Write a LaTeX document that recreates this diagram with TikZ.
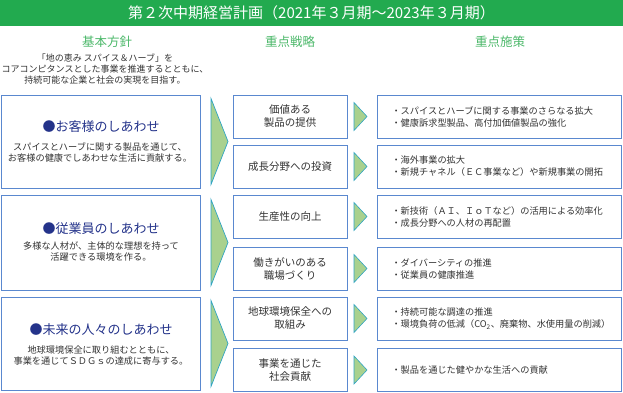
\documentclass[tikz,border=0pt]{standalone}
\usepackage{fontspec}
\setmainfont{Noto Sans CJK JP}
\definecolor{barGreen}{HTML}{22AA4F}
\definecolor{headGreen}{HTML}{4CB86A}
\definecolor{boxBlue}{HTML}{5A88CF}
\definecolor{navyT}{HTML}{24338A}
\definecolor{greyT}{HTML}{333333}
\definecolor{arrFill}{HTML}{A9D18E}
\definecolor{arrLine}{HTML}{2FA4C4}
\begin{document}
\begin{tikzpicture}[x=1pt,y=-1pt,
  every node/.style={inner sep=0pt, outer sep=0pt},
  headtext/.style={text=headGreen, font=\fontsize{12.5}{14}\selectfont},
  leftbox/.style={draw=boxBlue, line width=0.9pt, minimum width=199pt},
  midbox/.style={draw=boxBlue, line width=0.9pt, minimum width=114pt, minimum height=43pt,
     align=center, text=greyT, font=\fontsize{10.5}{13}\selectfont},
  rightbox/.style={draw=boxBlue, line width=0.9pt, minimum width=244pt, minimum height=43pt},
  lefttitle/.style={text=navyT, font=\fontsize{13}{15}\selectfont},
  leftsub/.style={text=greyT, align=center, font=\fontsize{9.2}{11}\selectfont},
  righttext/.style={anchor=west, text=greyT, align=left, font=\fontsize{9.2}{12}\selectfont},
  bigarrow/.style={fill=arrFill, draw=arrLine, line width=0.7pt},
  smallarrow/.style={fill=arrFill, draw=arrLine, line width=0.6pt}
]
\useasboundingbox (0,0) rectangle (623,393);
% title bar
\node[fill=barGreen, minimum width=623pt, minimum height=26pt, text=white,
      font=\fontsize{15}{17}\selectfont] (title) at (311.5,13)
      {第２次中期経営計画（2021年３月期～2023年３月期）};
% headers
\node[headtext] (h1) at (107,42) {基本方針};
\node[headtext] (h2) at (290,42) {重点戦略};
\node[headtext] (h3) at (500,42) {重点施策};
% intro
\node[leftsub, font=\fontsize{9}{11}\selectfont] (intro) at (105,69)
  {「地の恵み\ スパイス＆ハーブ」を\\コアコンピタンスとした事業を推進するとともに、\\持続可能な企業と社会の実現を目指す。};
% left boxes
\node[leftbox, minimum height=93pt] (lb1) at (100.5,141.5) {};
\node[leftbox, minimum height=95pt] (lb2) at (100.5,242.5) {};
\node[leftbox, minimum height=93pt] (lb3) at (100.5,343.5) {};
\node[lefttitle] (lt1) at (101,127) {●お客様のしあわせ};
\node[leftsub] (ls1) at (100,152.5) {スパイスとハーブに関する製品を通じて、\\お客様の健康でしあわせな生活に貢献する。};
\node[lefttitle] (lt2) at (101,229) {●従業員のしあわせ};
\node[leftsub] (ls2) at (101,251.5) {多様な人材が、主体的な理想を持って\\活躍できる環境を作る。};
\node[lefttitle] (lt3) at (101,330) {●未来の人々のしあわせ};
\node[leftsub] (ls3) at (101,355.5) {地球環境保全に取り組むとともに、\\事業を通じてＳＤＧｓの達成に寄与する。};
% big arrows
\foreach \b in {lb1,lb2,lb3}{
  \draw[bigarrow] ([yshift=-43pt]\b.center -| 211,0) -- (\b.center -| 228,0) -- ([yshift=43pt]\b.center -| 211,0) -- cycle;
}
% middle boxes
\node[midbox] (mb1) at (290,116.5) {価値ある\\製品の提供};
\node[midbox] (mb2) at (290,166.5) {成長分野への投資};
\node[midbox] (mb3) at (290,216.5) {生産性の向上};
\node[midbox] (mb4) at (290,268.5) {働きがいのある\\職場づくり};
\node[midbox] (mb5) at (290,318.5) {地球環境保全への\\取組み};
\node[midbox] (mb6) at (290,370) {事業を通じた\\社会貢献};
% small arrows
\foreach \b in {mb1,mb2,mb3,mb4,mb5,mb6}{
  \draw[smallarrow] ([yshift=-14pt]\b.center -| 354,0) -- (\b.center -| 367,0) -- ([yshift=14pt]\b.center -| 354,0) -- cycle;
}
% right boxes
\node[rightbox] (rb1) at (499,116.5) {};
\node[rightbox] (rb2) at (499,166.5) {};
\node[rightbox] (rb3) at (499,216.5) {};
\node[rightbox] (rb4) at (499,268.5) {};
\node[rightbox] (rb5) at (499,318.5) {};
\node[rightbox] (rb6) at (499,370) {};
\node[righttext] (rt1) at (rb1.center -| 391.5,0) {・スパイスとハーブに関する事業のさらなる拡大\\・健康訴求型製品、高付加価値製品の強化};
\node[righttext] (rt2) at (rb2.center -| 391.5,0) {・海外事業の拡大\\・新規チャネル（ＥＣ事業など）や新規事業の開拓};
\node[righttext] (rt3) at (rb3.center -| 391.5,0) {・新技術（ＡＩ、ＩｏＴなど）の活用による効率化\\・成長分野への人材の再配置};
\node[righttext] (rt4) at (rb4.center -| 391.5,0) {・ダイバーシティの推進\\・従業員の健康推進};
\node[righttext] (rt5) at (rb5.center -| 391.5,0) {・持続可能な調達の推進\\・環境負荷の低減（CO\textsubscript{2}、廃棄物、水使用量の削減）};
\node[righttext] (rt6) at (rb6.center -| 391.5,0) {・製品を通じた健やかな生活への貢献};
\end{tikzpicture}
\end{document}
